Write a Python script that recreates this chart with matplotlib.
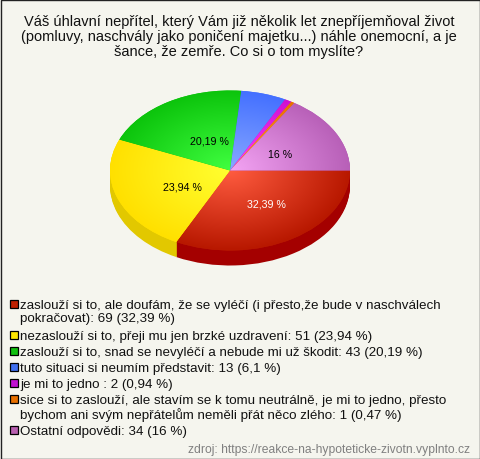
import numpy as np
import matplotlib
matplotlib.use('Agg')
import matplotlib.pyplot as plt
from matplotlib.colors import LinearSegmentedColormap
from matplotlib.patches import Rectangle

plt.rcParams['font.family'] = ['Liberation Sans', 'DejaVu Sans']

title = ('Váš úhlavní nepřítel, který Vám již několik let znepříjemňoval život\n'
         '(pomluvy, naschvály jako poničení majetku...) náhle onemocní, a je\n'
         'šance, že zemře. Co si o tom myslíte?')

answers = ['zaslouží si to, ale doufám, že se vyléčí (i přesto,že bude v naschválech\npokračovat)',
           'nezaslouží si to, přeji mu jen brzké uzdravení',
           'zaslouží si to, snad se nevyléčí a nebude mi už škodit',
           'tuto situaci si neumím představit',
           'je mi to jedno ',
           'sice si to zaslouží, ale stavím se k tomu neutrálně, je mi to jedno, přesto\nbychom ani svým nepřátelům neměli přát něco zlého',
           'Ostatní odpovědi']
counts = [69, 51, 43, 13, 2, 1, 34]
percents = [32.39, 23.94, 20.19, 6.1, 0.94, 0.47, 16]

edge_colors = ['#b81800', '#ffe000', '#0cc40c', '#4470ff', '#d010d0', '#e87000', '#b860b8']
center_colors = ['#ff5c40', '#ffff30', '#40ff40', '#88a8ff', '#ff40ff', '#ffa030', '#f4a4f4']
side_colors = ['#a40000', '#e2c800', '#0a9000', '#3050c0', '#a000a0', '#b05000', '#905090']
key_colors = ['#c02000', '#ffe800', '#10c010', '#4070f0', '#c010d0', '#e87000', '#b860b0']
label_colors = ['white', 'black', 'black', None, None, None, 'black']

source = 'zdroj: https://reakce-na-hypoteticke-zivotn.vyplnto.cz'

bg = '#f5f5ee'
fig = plt.figure(figsize=(4.8, 4.6), dpi=100, facecolor=bg)

# whole figure in pixel coordinates for text and legend
page = fig.add_axes([0, 0, 1, 1])
page.set_xlim(0, 480)
page.set_ylim(460, 0)
page.axis('off')
page.set_zorder(3)
page.add_patch(Rectangle((0.5, 0.5), 479, 459, fill=False, ec='#222222', lw=1))

page.text(239, 37, title, ha='center', va='center', fontsize=10.55, linespacing=1.1, color='#111111')

# pie axes: radius 120x80 px around (230, 171.5)
w, h = 300, 200
cx, cy = 230, 171.5
ax = fig.add_axes([(cx - w / 2) / 480, (460 - cy - h / 2) / 460, w / 480, h / 460])

depth = 15 / 80
for d in np.linspace(depth, 0.0125, 15):
    ax.pie(percents, colors=side_colors, startangle=0, counterclock=False, center=(0, -d),
           wedgeprops={'lw': 0})

wedges, _ = ax.pie(percents, colors=edge_colors, startangle=0, counterclock=False,
                   wedgeprops={'lw': 0})

xx, yy = np.meshgrid(np.linspace(-1.05, 1.05, 300), np.linspace(-1.05, 1.05, 300))
rr = np.clip(np.hypot(xx, yy), 0, 1)
for wedge, c1, c2 in zip(wedges, center_colors, edge_colors):
    cmap = LinearSegmentedColormap.from_list('g', [c1, c2])
    im = ax.imshow(rr, extent=(-1.05, 1.05, -1.05, 1.05), origin='lower', cmap=cmap,
                   vmin=0, vmax=1, aspect='auto', interpolation='bilinear', zorder=5)
    im.set_clip_path(wedge)

ax.set_aspect('auto')
ax.set_xlim(-1.25, 1.25)
ax.set_ylim(-1.25, 1.25)

# value labels
label_xy = [(266.5, 204.5), (182, 187.5), (209, 141.5), (None, None), (None, None), (None, None), (280, 155.5)]
for p, col, (x, y) in zip(percents, label_colors, label_xy):
    if x is None:
        continue
    page.text(x, y, f'{p:g} %'.replace('.', ','), ha='center', va='center', fontsize=7.7, color=col)

# legend
y = 306
for name, n, p, col in zip(answers, counts, percents, key_colors):
    page.add_patch(Rectangle((9.5, y - 5), 8, 8, fc=col, ec='black', lw=0.9))
    txt = name + f': {n} ' + f'({p:g} %)'.replace('.', ',')
    page.text(20.5, y - 6, txt, ha='left', va='top', fontsize=9.65, linespacing=1.06, color='#111111')
    y += 16 + 15 * name.count('\n')

page.text(470, 450, source, ha='right', va='center', fontsize=8.75, color='#808080')

fig.savefig('out.png', dpi=100, facecolor=bg)
